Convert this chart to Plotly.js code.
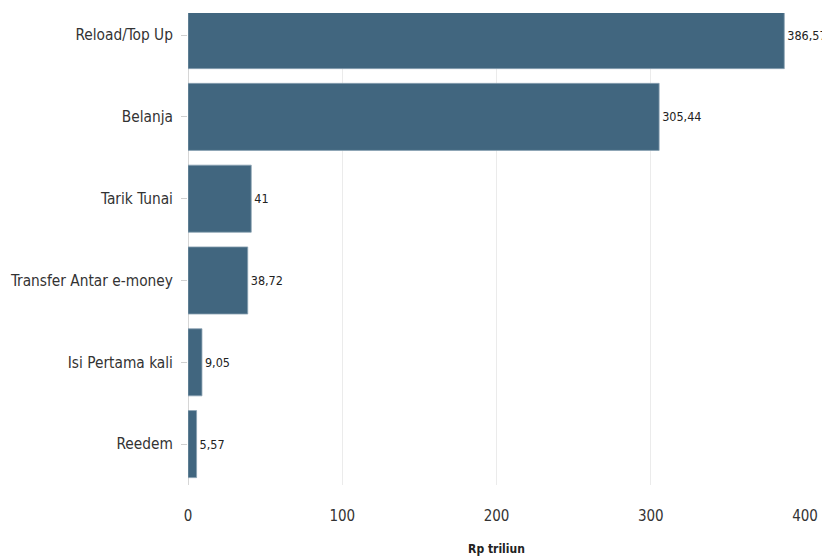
<!DOCTYPE html>
<html>
<head>
<meta charset="utf-8">
<script src="https://cdn.plot.ly/plotly-3.0.1.min.js"></script>
<style>html,body{margin:0;padding:0;background:#fff;}#chart{width:822px;height:558px;}</style>
</head>
<body>
<div id="chart"></div>
<script>
const categories = ["Reedem", "Isi Pertama kali", "Transfer Antar e-money", "Tarik Tunai", "Belanja", "Reload/Top Up"];
const values = [5.57, 9.05, 38.72, 41, 305.44, 386.57];
const xTicks = [0, 100, 200, 300, 400];
const xTitle = "Rp triliun";

const FONT = "'DejaVu Sans Condensed', 'Liberation Sans Narrow', 'DejaVu Sans', sans-serif";

const trace = {
  type: "bar",
  orientation: "h",
  y: categories,
  x: values,
  marker: { color: "#41667f", line: { color: "#8aa2b3", width: 0.8 } },
  width: 0.82,
  texttemplate: "%{x}",
  textposition: "outside",
  cliponaxis: false,
  constraintext: "none",
  textfont: { family: FONT, size: 12.5, color: "#222" },
  hoverinfo: "none"
};

const layout = {
  width: 822,
  height: 558,
  margin: { l: 188, r: 17, t: 13, b: 73 },
  separators: ",.",
  paper_bgcolor: "#fff",
  plot_bgcolor: "#fff",
  showlegend: false,
  font: { family: FONT, color: "#333" },
  xaxis: {
    range: [0, 400],
    tickvals: xTicks,
    ticktext: xTicks.map(String),
    showgrid: true,
    gridcolor: "#ebebeb",
    gridwidth: 1,
    zeroline: true,
    zerolinecolor: "#d6d6d6",
    zerolinewidth: 1,
    showline: false,
    ticks: "outside",
    ticklen: 17,
    tickcolor: "rgba(0,0,0,0)",
    tickfont: { family: FONT, size: 15, color: "#333" },
    title: { text: "<b>" + xTitle + "</b>", font: { family: FONT, size: 12, color: "#222" }, standoff: 20 },
    fixedrange: true
  },
  yaxis: {
    type: "category",
    range: [-0.5, 5.27],
    showgrid: false,
    zeroline: false,
    showline: false,
    ticks: "outside",
    ticklen: 6,
    tickcolor: "#d0d0d0",
    ticklabelstandoff: 5,
    tickfont: { family: FONT, size: 15.3, color: "#333" },
    fixedrange: true
  }
};

Plotly.newPlot("chart", [trace], layout, { displayModeBar: false, staticPlot: true });
</script>
</body>
</html>
